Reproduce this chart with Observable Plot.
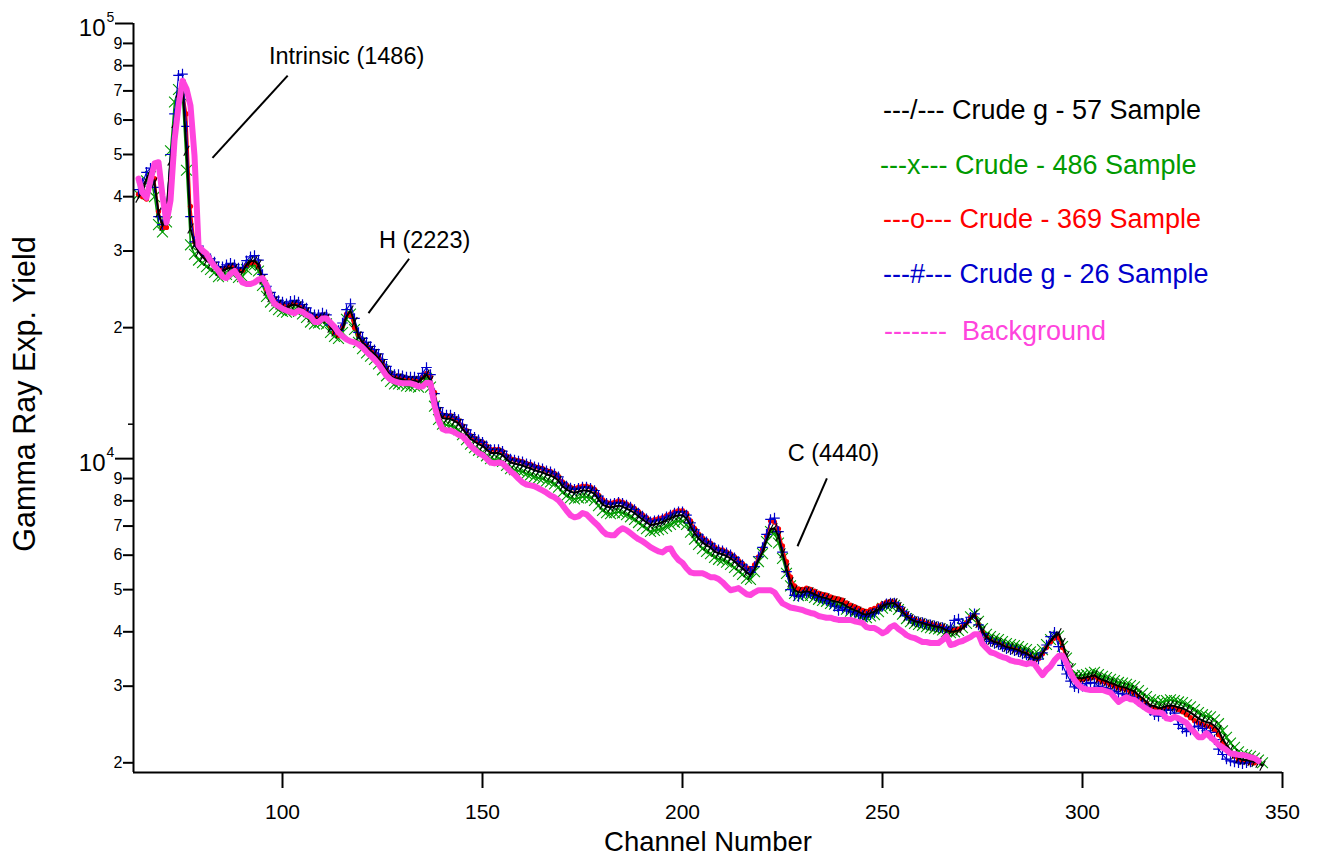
<!DOCTYPE html>
<html><head><meta charset="utf-8">
<script src="https://cdn.jsdelivr.net/npm/d3@7"></script>
<script src="https://cdn.jsdelivr.net/npm/@observablehq/plot@0.6"></script>
<style>
body{margin:0;background:#fff;}
#wrap{position:relative;width:1320px;height:860px;overflow:hidden;}
#legend{position:absolute;left:0;top:0;font-family:"Liberation Sans",Arial,sans-serif;font-size:27px;}
#legend div{position:absolute;white-space:pre;line-height:1;}
</style></head><body><div id="wrap"><div id="chart"></div><div id="legend"></div></div>
<script>
// ---- data: yields per channel, first value is channel 64 ----
const firstChannel = 64;

const crudeG57 = [39800,41300,44000,45900,43100,36800,34300,37100,48400,59100,69300,72300,51000,33800,31100,29900,29100,28500,28100,27600,27000,27000,27300,27500,27300,26800,26900,27900,28400,28500,27900,25800,24300,23500,23000,22600,22400,22200,22500,22600,22400,22100,21700,21100,21000,21000,21200,21000,20000,19600,19400,19900,21200,21900,20600,19100,18500,18100,17700,17400,17000,16500,15950,15500,15300,15300,15200,15100,15100,15100,15000,15300,15600,15100,13800,12800,12400,12350,12350,12200,12050,11700,11400,11100,10950,10800,10700,10500,10300,10300,10300,10200,9960,9800,9750,9700,9650,9550,9500,9400,9350,9300,9200,9150,9050,8900,8640,8500,8400,8350,8400,8450,8450,8400,8300,8060,7850,7760,7720,7760,7800,7760,7680,7600,7500,7370,7250,7140,7030,7070,7100,7140,7220,7290,7370,7410,7410,7290,7000,6740,6560,6420,6320,6250,6120,6060,6030,5970,5900,5810,5690,5600,5480,5400,5570,5850,6090,6490,6880,6920,6630,6060,5600,5200,4985,4930,4930,4960,4930,4880,4830,4800,4780,4730,4700,4680,4650,4580,4530,4490,4450,4400,4380,4420,4450,4510,4580,4630,4650,4650,4560,4450,4350,4280,4230,4210,4190,4160,4140,4120,4100,4080,4030,4000,4010,4030,4080,4160,4300,4380,4190,4010,3890,3830,3790,3770,3730,3690,3670,3650,3630,3590,3570,3520,3480,3480,3570,3690,3810,3910,3970,3770,3520,3300,3145,3130,3130,3145,3160,3180,3130,3100,3080,3050,3030,3000,2985,2970,2940,2920,2860,2815,2760,2710,2700,2670,2680,2700,2710,2700,2680,2670,2640,2610,2570,2530,2500,2480,2470,2430,2380,2270,2200,2140,2095,2050,2030,2030,2020,2010,2000,1970];

const crude486 = [40500,42000,43500,44500,40000,34500,33200,35000,51000,66000,70500,68000,46000,31000,29500,28600,28200,27600,27200,26800,26200,26300,26500,26800,26600,26100,26200,27200,27800,27900,27000,25000,23600,22900,22400,22000,21800,21700,21900,22000,21800,21500,21100,20600,20400,20500,20600,20400,19500,19100,18900,19500,20900,21500,19800,18500,17900,17500,17200,16900,16500,16000,15500,15050,14850,14850,14800,14700,14650,14700,14600,15000,15300,14600,13200,12300,12000,11950,11900,11800,11650,11350,11050,10800,10600,10450,10350,10150,10000,9950,9980,9850,9650,9480,9430,9380,9330,9230,9180,9090,9030,8990,8890,8840,8750,8600,8360,8220,8130,8080,8120,8170,8160,8120,8020,7800,7600,7510,7470,7510,7540,7500,7430,7350,7250,7130,7010,6900,6800,6840,6870,6910,6990,7060,7140,7180,7180,7060,6780,6530,6350,6210,6120,6050,5930,5870,5840,5780,5710,5620,5510,5420,5310,5280,5500,5800,6050,6450,6800,6750,6400,5900,5450,5100,4900,4840,4850,4880,4850,4800,4750,4720,4700,4650,4630,4600,4580,4510,4460,4420,4380,4330,4310,4350,4380,4450,4530,4580,4600,4600,4500,4390,4290,4220,4180,4160,4140,4110,4090,4070,4060,4040,4000,3980,4000,4030,4090,4180,4330,4400,4230,4070,3950,3900,3860,3840,3800,3760,3740,3720,3700,3660,3640,3600,3560,3560,3640,3740,3840,3900,3910,3700,3480,3290,3170,3170,3180,3190,3210,3230,3190,3160,3140,3110,3090,3060,3050,3030,3010,2990,2930,2890,2840,2790,2780,2750,2760,2780,2790,2780,2760,2750,2720,2690,2650,2610,2580,2560,2550,2510,2460,2370,2290,2220,2170,2120,2090,2080,2070,2050,2030,2000];

const crude369 = [40500,40000,39500,43500,44000,37000,34000,34000,44000,56000,68000,71000,62000,38000,31500,30500,29700,29000,28500,28000,27400,27300,27600,27800,27600,27100,27100,27800,28200,28300,27700,26000,24500,23700,23200,22800,22600,22400,22700,22800,22600,22300,21900,21300,21200,21200,21400,21200,20200,19500,19200,20200,21500,21300,20000,19300,18700,18300,17900,17600,17200,16700,16100,15700,15500,15500,15400,15300,15300,15300,15200,15400,15700,15400,14200,13000,12600,12550,12550,12400,12250,11900,11600,11300,11150,11000,10900,10700,10500,10500,10500,10400,10150,10000,9950,9900,9850,9750,9700,9600,9550,9500,9400,9350,9250,9100,8850,8700,8600,8550,8600,8650,8650,8600,8500,8250,8050,7950,7900,7950,8000,7950,7870,7790,7690,7560,7430,7320,7200,7240,7280,7320,7400,7470,7550,7600,7600,7500,7200,6920,6720,6580,6480,6400,6270,6200,6170,6110,6040,5950,5830,5740,5620,5560,5700,5950,6200,6650,7200,7150,6900,6300,5800,5350,5100,5020,5010,5040,5010,4960,4910,4880,4860,4810,4780,4760,4730,4660,4610,4570,4530,4480,4460,4500,4530,4590,4640,4680,4700,4690,4600,4490,4390,4320,4270,4240,4220,4190,4170,4150,4130,4110,4060,4030,4040,4060,4110,4200,4320,4360,4150,3990,3880,3820,3780,3760,3720,3680,3660,3640,3620,3580,3560,3510,3470,3470,3560,3680,3790,3870,3880,3680,3440,3250,3110,3100,3100,3120,3130,3150,3100,3070,3050,3020,3000,2970,2960,2940,2910,2890,2830,2790,2740,2690,2680,2640,2650,2670,2680,2670,2650,2620,2580,2540,2500,2470,2450,2430,2420,2380,2320,2230,2170,2110,2070,2030,2010,2010,2000,2000];

const crudeG26 = [41500,43000,45500,46500,42000,36000,34500,37500,50000,62000,76000,76500,58000,36000,31500,30800,29800,29200,28800,28300,27600,27600,27900,28100,27900,27400,27500,28500,29100,29300,28600,26500,24900,24100,23500,23100,22900,22700,23000,23100,22900,22600,22200,21600,21400,21400,21600,21400,20300,19800,19700,20500,22000,22700,21000,19500,18900,18500,18100,17800,17400,16900,16300,15800,15600,15600,15500,15400,15400,15400,15300,15700,16200,15600,14100,13100,12700,12600,12600,12450,12300,11950,11650,11350,11200,11050,10900,10700,10500,10500,10500,10400,10150,9980,9930,9880,9830,9730,9680,9580,9530,9480,9380,9330,9230,9080,8800,8650,8560,8500,8550,8600,8600,8550,8450,8200,7990,7900,7860,7900,7940,7900,7820,7740,7640,7500,7380,7270,7160,7200,7230,7270,7350,7420,7500,7550,7550,7420,7120,6860,6680,6540,6440,6370,6240,6170,6140,6080,6010,5920,5800,5700,5580,5480,5650,5950,6250,6700,7250,7300,6800,6100,5500,5000,4850,4820,4860,4920,4900,4850,4800,4760,4720,4650,4580,4480,4550,4500,4460,4440,4400,4360,4340,4380,4420,4500,4580,4640,4660,4660,4570,4460,4360,4290,4240,4220,4200,4170,4150,4130,4110,4090,4050,4100,4250,4280,4180,4200,4320,4400,4150,3960,3850,3800,3760,3740,3700,3660,3640,3620,3600,3560,3540,3490,3450,3460,3580,3730,3900,3990,3700,3350,3200,3080,2990,2970,3000,3040,3060,3050,3000,2980,2960,2940,2920,2890,2880,2860,2840,2820,2770,2730,2700,2640,2580,2560,2600,2640,2650,2600,2450,2400,2360,2380,2420,2430,2400,2370,2350,2260,2150,2090,2040,2020,2010,2000,1990,2000,2010];

const background = [44000,40800,39800,43600,47700,48000,40200,34900,39200,53800,64700,73900,70800,64700,49700,30900,30100,29600,28500,27700,27000,26200,26000,26600,27000,26200,25400,25200,25200,25400,25800,26000,25100,23600,22700,22400,22100,21900,21750,21600,21900,21750,21400,21200,20600,20600,21000,21000,20550,20100,19500,19100,18800,18600,18500,18300,18000,17600,17250,16900,16500,16000,15500,15200,15050,14950,14900,14900,14900,14800,14650,14650,14950,14900,13250,12250,11700,11600,11600,11500,11350,11250,11000,10700,10500,10300,10200,10000,9800,9750,9800,9750,9550,9350,9200,9000,8820,8720,8680,8640,8550,8450,8350,8230,8150,8020,7820,7600,7410,7330,7370,7500,7450,7290,7140,7000,6820,6700,6670,6670,6820,6920,6850,6740,6630,6530,6460,6360,6260,6190,6120,6090,6190,6220,6000,5850,5760,5600,5480,5450,5450,5450,5400,5340,5340,5290,5200,5090,4985,5010,5040,4960,4880,4860,4930,4985,4985,4985,4985,4930,4780,4650,4600,4550,4530,4510,4490,4450,4420,4400,4350,4330,4310,4310,4280,4260,4260,4260,4260,4230,4210,4190,4100,4080,4080,4030,3970,4010,4100,4140,4060,4000,3930,3890,3870,3830,3790,3790,3770,3770,3770,3830,3910,3730,3750,3790,3810,3850,3890,3950,3950,3750,3670,3590,3570,3530,3500,3480,3440,3420,3410,3390,3370,3390,3370,3270,3180,3270,3330,3440,3520,3530,3390,3220,3100,3020,2970,2950,2940,2940,2940,2940,2920,2900,2830,2760,2800,2830,2800,2790,2740,2700,2660,2630,2610,2610,2600,2530,2520,2550,2530,2500,2470,2400,2350,2290,2290,2340,2290,2250,2200,2170,2140,2100,2095,2085,2085,2075,2060,2050,2020];

const xTicks = [100, 150, 200, 250, 300, 350];
const yMajorTicks = [10000, 100000];
const yMajorExponents = ["4", "5"];
const yMinorTicks = [2000,3000,4000,5000,6000,7000,8000,9000,20000,30000,40000,50000,60000,70000,80000,90000];
const yMinorLabels = ["2","3","4","5","6","7","8","9","2","3","4","5","6","7","8","9"];
const ySubTicks = [12000];

const legendLabels = ["---/--- Crude g - 57 Sample", "---x--- Crude - 486 Sample", "---o--- Crude - 369 Sample", "---#--- Crude g - 26 Sample", "-------  Background"];

const annotations = [
  {label: "Intrinsic (1486)", tx: 96.6, ty: 83900, x1: 82.5, y1: 49100, x2: 101.3, y2: 75900},
  {label: "H (2223)", tx: 124.1, ty: 31700, x1: 121.5, y1: 21600, x2: 131.65, y2: 28800},
  {label: "C (4440)", tx: 226.3, ty: 10290, x1: 228.75, y1: 6290, x2: 236.1, y2: 9010}
];

// ---- build ----
const toRows = vals => vals.map((v, i) => ({channel: firstChannel + i, yield: v}));
const slash = {draw(ctx, size) { const r = Math.sqrt(size / Math.PI); ctx.moveTo(-0.55 * r, r); ctx.lineTo(0.55 * r, -r); }};

const C = {black: "#000000", green: "#009a00", red: "#ff0000", blue: "#0000cc", pink: "#ff44dd"};
const rG57 = toRows(crudeG57), r486 = toRows(crude486), r369 = toRows(crude369), rG26 = toRows(crudeG26), rBg = toRows(background);
const xy = {x: "channel", y: "yield"};
const font = "'Liberation Sans', Arial, Helvetica, sans-serif";

const chart = Plot.plot({
  width: 1320, height: 860,
  marginLeft: 133, marginRight: 38, marginTop: 23, marginBottom: 88,
  style: {fontFamily: font, background: "white", color: "black", overflow: "visible"},
  x: {domain: [62.75, 350]},
  y: {type: "log", domain: [1900, 100000]},
  marks: [
    Plot.lineY(r486, {...xy, stroke: C.green, strokeWidth: 1.6}),
    Plot.dot(r486, {...xy, symbol: "times", r: 5, stroke: C.green, strokeWidth: 1.1}),
    Plot.lineY(r369, {...xy, stroke: C.red, strokeWidth: 1.8}),
    Plot.dot(r369, {...xy, symbol: "circle", r: 2.6, fill: C.red, stroke: "none"}),
    Plot.lineY(rG26, {...xy, stroke: C.blue, strokeWidth: 1.1}),
    Plot.dot(rG26, {...xy, symbol: "plus", r: 3.5, stroke: C.blue, strokeWidth: 1.2}),
    Plot.lineY(rG57, {...xy, stroke: C.black, strokeWidth: 2}),
    Plot.dot(rG57, {...xy, symbol: slash, r: 5, stroke: C.black, strokeWidth: 1.1}),
    Plot.lineY(rBg, {...xy, stroke: C.pink, strokeWidth: 6, strokeLinejoin: "round", strokeLinecap: "round"}),
    Plot.link(annotations, {x1: "x1", y1: "y1", x2: "x2", y2: "y2", stroke: "black", strokeWidth: 2}),
    Plot.text(annotations, {x: "tx", y: "ty", text: "label", textAnchor: "start", fontSize: 23.5, fill: "black"}),
    Plot.ruleX([62.75], {stroke: "black", strokeWidth: 2}),
    Plot.ruleY([1900], {stroke: "black", strokeWidth: 2}),
    Plot.axisX({ticks: xTicks, tickSize: 16, tickPadding: 16, fontSize: 21, tickFormat: d => String(d), label: null, strokeWidth: 2}),
    Plot.axisY({ticks: yMinorTicks, tickSize: 10, tickFormat: () => "", label: null, strokeWidth: 2}),
    Plot.axisY({ticks: ySubTicks, tickSize: 5, tickFormat: () => "", label: null, strokeWidth: 1.5}),
    Plot.axisY({ticks: yMajorTicks, tickSize: 18, tickFormat: () => "", label: null, strokeWidth: 2}),
    Plot.text(yMinorTicks, {y: d => d, frameAnchor: "left", text: (d, i) => yMinorLabels[i], textAnchor: "end", dx: -11, fontSize: 16}),
    Plot.text(yMajorTicks, {y: d => d, frameAnchor: "left", text: () => "10", textAnchor: "end", dx: -28, dy: 5, fontSize: 24}),
    Plot.text(yMajorTicks, {y: d => d, frameAnchor: "left", text: (d, i) => yMajorExponents[i], textAnchor: "start", dx: -27, dy: -6, fontSize: 14}),
    Plot.text(["Channel Number"], {frameAnchor: "bottom", dy: 78, fontSize: 27.5}),
    Plot.text(["Gamma Ray Exp. Yield"], {frameAnchor: "left", textAnchor: "middle", dx: -108, dy: -4, rotate: -90, fontSize: 30.5})
  ]
});
document.getElementById("chart").appendChild(chart);

// legend overlay inside the plot area
const legendColors = [C.black, C.green, C.red, C.blue, C.pink];
const legendLeft = [883, 880, 883, 883, 884];
const legendMid = [110, 165, 219, 274, 331];
const lg = document.getElementById("legend");
legendLabels.forEach((t, i) => {
  const d = document.createElement("div");
  d.textContent = t;
  d.style.color = legendColors[i];
  d.style.left = legendLeft[i] + "px";
  d.style.top = (legendMid[i] - 13) + "px";
  lg.appendChild(d);
});
</script></body></html>
